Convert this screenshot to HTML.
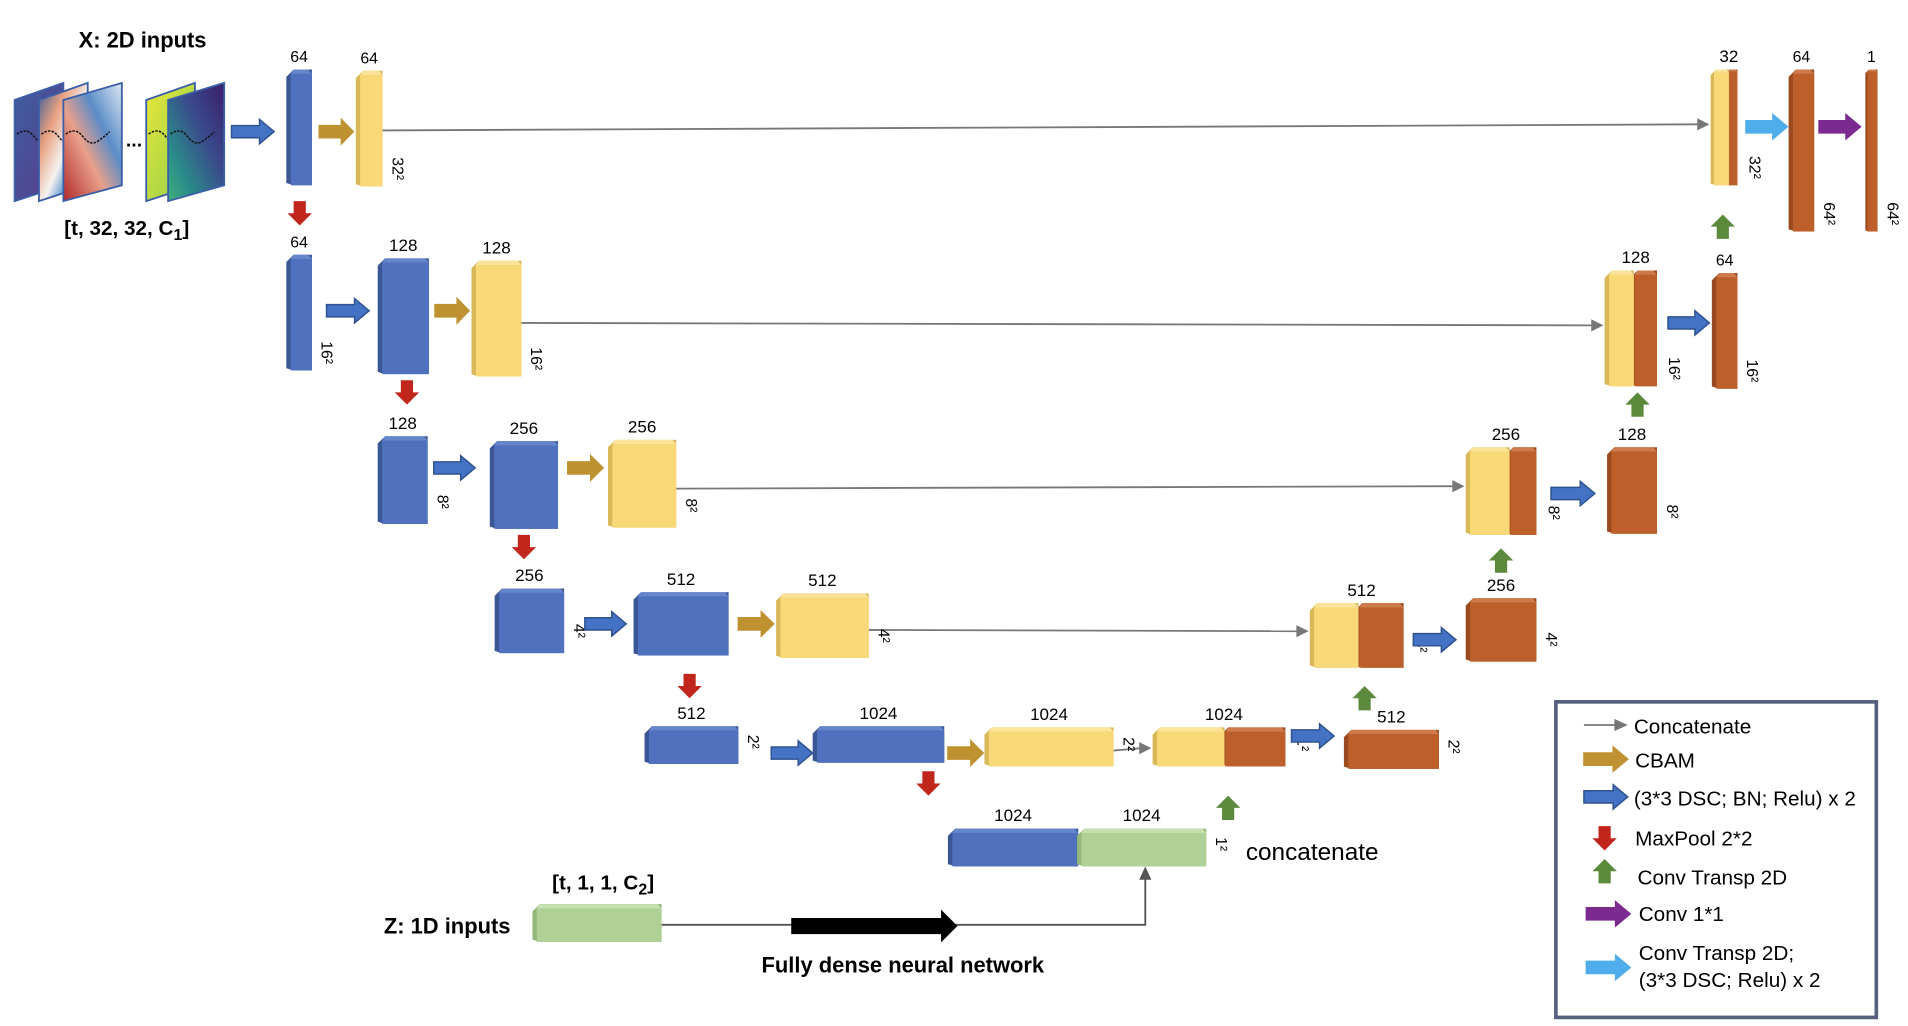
<!DOCTYPE html>
<html><head><meta charset="utf-8"><style>
html,body{margin:0;padding:0;background:#fff;}
svg{display:block;font-family:"Liberation Sans",sans-serif;}
</style></head><body>
<svg id="fig" width="1908" height="1026" viewBox="0 0 1566 842" xmlns="http://www.w3.org/2000/svg">
<defs>
<linearGradient id="gRed" x1="0" y1="0" x2="1" y2="1"><stop offset="0" stop-color="#2c5a9a"/><stop offset="0.3" stop-color="#e8a080"/><stop offset="0.55" stop-color="#f5f2f0"/><stop offset="0.7" stop-color="#6fa0d0"/><stop offset="1" stop-color="#b5302a"/></linearGradient>
<linearGradient id="gRed2" x1="1" y1="0" x2="0" y2="1"><stop offset="0" stop-color="#dfe8f3"/><stop offset="0.35" stop-color="#5a8cc8"/><stop offset="0.6" stop-color="#e9a08a"/><stop offset="1" stop-color="#b0282a"/></linearGradient>
<linearGradient id="gVir" x1="1" y1="0" x2="0" y2="1"><stop offset="0" stop-color="#3a1d6a"/><stop offset="0.4" stop-color="#3a4b8c"/><stop offset="0.75" stop-color="#2a8a8a"/><stop offset="1" stop-color="#3fb07a"/></linearGradient>
<linearGradient id="gYel" x1="0" y1="0" x2="1" y2="1"><stop offset="0" stop-color="#e8e63a"/><stop offset="1" stop-color="#8ccf4a"/></linearGradient>
<linearGradient id="gBlue" x1="0" y1="0" x2="1" y2="1"><stop offset="0" stop-color="#3e5fa0"/><stop offset="1" stop-color="#5a3a8a"/></linearGradient>
</defs>
<g id="layer"></g>
</svg>
<script>
// block data: [x, y, w, h, color-kind, channel label, size label]
const blocks = [
 [235,57,21,95,"b","64",""],[292,58,22,95,"y","64","32²"],
 [235,209,21,95,"b","64","16²"],[310,212,42,95,"b","128",""],[387,214,41,95,"y","128","16²"],
 [310,358,41,72,"b","128","8²"],[402,362,56,72,"b","256",""],[499,361,56,72,"y","256","8²"],
 [406,483,57,53,"b","256","4²"],[520,486,78,52,"b","512",""],[637,487,76,53,"y","512","4²"],
 [529,596,77,31,"b","512","2²"],[667,596,108,30,"b","1024",""],[808,597,106,32,"y","1024","2²"],
 [1103,599,78,32,"o","512","2²"],[1203,491,58,52,"o","256","4²"],[1319,367,41,71,"o","128","8²"],
 [1405,224,21,95,"o","64","16²"],[1468,57,21,133,"o","64","64²"],[1531,57,10,133,"o","1","64²"],
 [778,680,107,31,"b","1024",""],[884,680,106,31,"g","1024","1²"],[437,742,106,31,"g","",""]
];
// split (concat) blocks: [x, y, wYellow, wOrange, h, label, size]
const splits = [
 [1404,57,12,10,95,"32","32²"],[1317,222,21,22,95,"128","16²"],[1203,367,33,25,72,"256","8²"],
 [1075,495,37,40,53,"512","4²"],[946,597,56,53,32,"1024","1²"]
];
const concatLines = [[314,107,1403,102],[428,265,1316,267],[555,401,1202,399],[713,517,1074,518],[914,616,945,614]];
// arrows: [kind, x, y, len]
const hArrows = [
 ["b",190,108,35],["c",262,108,28],["b",268,255,35],["c",357,255,28],["b",356,384,34],["c",466,384,29],
 ["b",480,512,34],["c",606,512,29],["b",633,618,34],["c",778,618,29],["b",1060,604,35],["b",1160,525,35],
 ["b",1273,405,36],["b",1369,265,34],["t",1433,104,34],["p",1493,104,34]
];
const downArrows = [[246,165],[334,312],[430,439],[566,553],[762,633]];
const upArrows = [[1414,176],[1344,322],[1232,450],[1120,563],[1008,653]];

const NS="http://www.w3.org/2000/svg";
const L=document.getElementById("layer");
function mk(tag,attrs,parent){const e=document.createElementNS(NS,tag);for(const k in attrs)e.setAttribute(k,attrs[k]);(parent||L).appendChild(e);return e;}
const COL={b:["#4F71BE","#3A5694","#6686cc"],y:["#F8D877","#D9B857","#fbe39a"],o:["#BC5F2A","#9A4A1E","#cf7a4a"],g:["#B0D196","#94B77A","#c6e0b0"]};
function box(x,y,w,h,k,parent){
 const c=COL[k],d=Math.min(6,w*0.3);
 mk("polygon",{points:`${x},${y+d} ${x+d},${y} ${x+w},${y} ${x+w},${y+h} ${x+d},${y+h} ${x},${y+h-d*0.3}`,fill:c[1]},parent);
 mk("polygon",{points:`${x+d},${y} ${x+w-d*0.5},${y} ${x+w},${y+d*0.6} ${x+d*0.6},${y+d*0.6}`,fill:c[2]},parent);
 mk("rect",{x:x+d*0.6,y:y+d*0.6,width:w-d*0.6,height:h-d*0.6,fill:c[0]},parent);
}
function txt(s,x,y,size,opts,parent){const t=mk("text",Object.assign({x:x,y:y,"font-size":size,"text-anchor":"middle",fill:"#000"},opts||{}),parent);t.textContent=s;return t;}
function sizeLabel(s,x,y,parent){return txt(s,x,y,13,{transform:`rotate(90 ${x} ${y})`,"text-anchor":"start"},parent);}

concatLines.forEach(l=>{
 const g=mk("g",{});
 
 
 mk("line",{x1:l[0],y1:l[1],x2:l[2]-8,y2:l[3],stroke:"#777","stroke-width":1.5},g);
 mk("polygon",{points:`${l[2]},${l[3]} ${l[2]-10},${l[3]-5} ${l[2]-10},${l[3]+5}`,fill:"#777"},g);
});
blocks.forEach(b=>{
 const g=mk("g",{});
 
 
 box(b[0],b[1],b[2],b[3],b[4],g);
 if(b[5])txt(b[5],b[0]+b[2]/2,b[1]-6,b[2]>100||b[5].length>2?14:13,{},g);
 if(b[6])sizeLabel(b[6],b[0]+b[2]+8,b[1]+b[3]-24,g);
});
splits.forEach(s=>{
 const g=mk("g",{});
 
 
 box(s[0]+s[2],s[1],s[3],s[4],"o",g);
 box(s[0],s[1],s[2]+3,s[4],"y",g);
 txt(s[5],s[0]+(s[2]+s[3])/2+4,s[1]-6,14,{},g);
 sizeLabel(s[6],s[0]+s[2]+s[3]+10,s[1]+s[4]-24,g);
});
const AC={b:["#4472C4","#2F528F"],c:["#BF9231","#BF9231"],t:["#4EADEA","#4EADEA"],p:["#7B2A90","#7B2A90"],k:["#000","#000"],r:["#C0261C","#C0261C"],g:["#5B8A3C","#5B8A3C"]};
function hArrow(k,x,y,len,parent,sh,hh){
 sh=sh||5;hh=hh||10;const hl=Math.min(12,len*0.35);
 mk("polygon",{points:`${x},${y-sh} ${x+len-hl},${y-sh} ${x+len-hl},${y-hh} ${x+len},${y} ${x+len-hl},${y+hh} ${x+len-hl},${y+sh} ${x},${y+sh}`,fill:AC[k][0],stroke:AC[k][1],"stroke-width":1.2},parent);
}
function vArrow(k,x,y,up,parent){
 const sw=5,hw=10,L1=20,hl=10;
 const pts=up?`${x-sw},${y+L1} ${x-sw},${y+hl} ${x-hw},${y+hl} ${x},${y} ${x+hw},${y+hl} ${x+sw},${y+hl} ${x+sw},${y+L1}`
           :`${x-sw},${y} ${x-sw},${y+L1-hl} ${x-hw},${y+L1-hl} ${x},${y+L1} ${x+hw},${y+L1-hl} ${x+sw},${y+L1-hl} ${x+sw},${y}`;
 mk("polygon",{points:pts,fill:AC[up?"g":"r"][0]},parent);
}
hArrows.forEach(a=>{const g=mk("g",{});
 
 
 hArrow(a[0],a[1],a[2],a[3],g);});
downArrows.forEach(a=>{const g=mk("g",{});
 
 
 vArrow("r",a[0],a[1],false,g);});
upArrows.forEach(a=>{const g=mk("g",{});
 
 
 vArrow("g",a[0],a[1],true,g);});

// input images
const gi=mk("g",{});


const panels=[[12,40,"url(#gBlue)"],[32,40,"url(#gRed)"],[52,48,"url(#gRed2)"],[120,40,"url(#gYel)"],[138,46,"url(#gVir)"]];
panels.forEach(p=>{mk("polygon",{points:`${p[0]},${82} ${p[0]+p[1]},${68} ${p[0]+p[1]},${152} ${p[0]},${165}`,fill:p[2],stroke:"#3b5ea8","stroke-width":1.5},gi);
 mk("path",{d:`M${p[0]+2},110 q8,-6 14,2 t12,4 t10,-8`,stroke:"#111","stroke-width":1.2,fill:"none","stroke-dasharray":"2,1"},gi);});
txt("...",110,120,16,{"font-weight":"bold"},gi);

// labels
let t;
t=txt("X: 2D inputs",117,39,18,{"font-weight":"bold"});
t=mk("text",{x:104,y:193,"font-size":17,"font-weight":"bold","text-anchor":"middle"});t.innerHTML='[t, 32, 32, C<tspan font-size="13" dy="4">1</tspan><tspan dy="-4">]</tspan>';

t=mk("text",{x:495,y:730,"font-size":17,"font-weight":"bold","text-anchor":"middle"});t.innerHTML='[t, 1, 1, C<tspan font-size="13" dy="4">2</tspan><tspan dy="-4">]</tspan>';

t=txt("Z: 1D inputs",367,766,18,{"font-weight":"bold"});
t=txt("Fully dense neural network",741,798,18,{"font-weight":"bold"});
t=txt("concatenate",1077,706,20,{});

// dense path
const gd=mk("g",{});


mk("polyline",{points:"543,759 940,759 940,720",fill:"none",stroke:"#555","stroke-width":1.5},gd);
mk("polygon",{points:"940,711 935,722 945,722",fill:"#555"},gd);
hArrow("k",650,760,135,gd,6,12);

// legend
const lg=mk("g",{});


mk("rect",{x:1277,y:576,width:263,height:259,fill:"#fff",stroke:"#56617e","stroke-width":3},lg);
mk("line",{x1:1300,y1:595,x2:1326,y2:595,stroke:"#777","stroke-width":1.5},lg);
mk("polygon",{points:"1336,595 1325,590 1325,600",fill:"#777"},lg);
hArrow("c",1300,623,36,lg);
hArrow("b",1300,654,36,lg);
vArrow("r",1317,678,false,lg);
vArrow("g",1317,705,true,lg);
hArrow("p",1302,750,36,lg);
hArrow("t",1302,794,36,lg);
const leg=[["Concatenate",1341,602],["CBAM",1342,630],["(3*3 DSC; BN; Relu) x 2",1341,661],["MaxPool 2*2",1342,694],["Conv Transp 2D",1344,726],["Conv 1*1",1345,756],["Conv Transp 2D;",1345,788],["(3*3 DSC; Relu) x 2",1345,810]];
leg.forEach(e=>{const tt=txt(e[0],e[1],e[2],17,{"text-anchor":"start"},lg);
 
 });
</script>
</body></html>
